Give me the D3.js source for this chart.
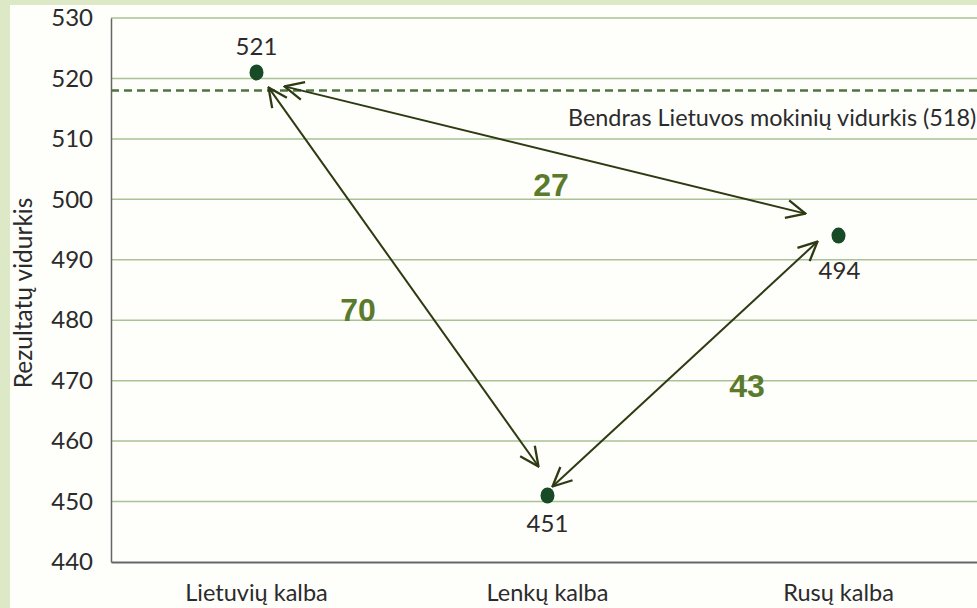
<!DOCTYPE html>
<html>
<head>
<meta charset="utf-8">
<script src="https://cdn.jsdelivr.net/npm/d3@7"></script>
<style>
    body { margin: 0; background: #dde8c6; }
    svg { display: block; }
    text { font-family: Lato, "Open Sans", sans-serif; fill: #2b2b2b; }
</style>
</head>
<body>
<svg width="977" height="608"></svg>
<script>
const categories = ["Lietuvių kalba", "Lenkų kalba", "Rusų kalba"];
const values = [521, 451, 494];
const yTicks = [440, 450, 460, 470, 480, 490, 500, 510, 520, 530];
const averageValue = 518;
const averageLabel = "Bendras Lietuvos mokinių vidurkis (518)";
const yTitle = "Rezultatų vidurkis";
// differences between pairs: [from index, to index, label]
const diffs = [[0, 1, "70"], [0, 2, "27"], [1, 2, "43"]];

const svg = d3.select("svg");
const width = +svg.attr("width");
const height = +svg.attr("height");

svg.append("rect")
    .attr("x", 10).attr("y", 5)
    .attr("width", width - 10).attr("height", height - 5)
    .attr("fill", "#fefefb");

const x = d3.scaleBand().domain(categories).range([111, 984]);
const y = d3.scaleLinear().domain([440, 530]).range([562, 18]);
const cx = c => x(c) + x.bandwidth() / 2;

// gridlines
svg.append("g")
    .selectAll("line")
    .data(yTicks.filter(t => t > 440))
    .join("line")
    .attr("x1", 111).attr("x2", width)
    .attr("y1", d => y(d)).attr("y2", d => y(d))
    .attr("stroke", "#a9c296")
    .attr("stroke-width", 1.5);

// y axis
const yAxis = svg.append("g")
    .attr("transform", "translate(111,0)")
    .call(d3.axisLeft(y).tickValues(yTicks).tickSize(0).tickPadding(18));
yAxis.select(".domain").attr("stroke", "#666").attr("stroke-width", 1.5);
yAxis.selectAll("text").style("font-size", "24px").attr("fill", "#2b2b2b");

// x axis
const xAxis = svg.append("g")
    .attr("transform", "translate(0,562)")
    .call(d3.axisBottom(x).tickSize(0).tickPadding(22));
xAxis.select(".domain").attr("stroke", "#666").attr("stroke-width", 2);
xAxis.selectAll("text").style("font-size", "23.5px").attr("fill", "#2b2b2b");

svg.append("text")
    .attr("transform", `translate(32,${(y(440) + y(530)) / 2 + 3}) rotate(-90)`)
    .attr("text-anchor", "middle")
    .style("font-size", "24.5px")
    .text(yTitle);

// average dashed line
svg.append("line")
    .attr("x1", 111).attr("x2", width)
    .attr("y1", y(averageValue)).attr("y2", y(averageValue))
    .attr("stroke", "#4f7440")
    .attr("stroke-width", 2.5)
    .attr("stroke-dasharray", "8,5");

svg.append("text")
    .attr("x", 568).attr("y", y(averageValue) + 35)
    .style("font-size", "23.4px")
    .text(averageLabel);

// arrows
const defs = svg.append("defs");
defs.append("marker")
    .attr("id", "head")
    .attr("viewBox", "0 0 22 22")
    .attr("refX", 21).attr("refY", 11)
    .attr("markerWidth", 22).attr("markerHeight", 22)
    .attr("markerUnits", "userSpaceOnUse")
    .attr("orient", "auto-start-reverse")
    .append("path")
    .attr("d", "M2,2 L21,11 L2,20")
    .attr("fill", "none")
    .attr("stroke", "#2d3a12")
    .attr("stroke-width", 2.3);

const pts = categories.map((c, i) => ({ x: cx(c), y: y(values[i]) }));
// start/end offsets per arrow, in px from the points
const arrowOffsets = [
    [[12, 15], [-9, -29]],
    [[28, 14], [-33, -22]],
    [[5, -9], [-21, 6]]
];

diffs.forEach((d, i) => {
    const a = pts[d[0]], b = pts[d[1]];
    const [o1, o2] = arrowOffsets[i];
    svg.append("line")
        .attr("x1", a.x + o1[0]).attr("y1", a.y + o1[1])
        .attr("x2", b.x + o2[0]).attr("y2", b.y + o2[1])
        .attr("stroke", "#2d3a12")
        .attr("stroke-width", 2)
        .attr("marker-start", "url(#head)")
        .attr("marker-end", "url(#head)");
});

// difference labels
const labelXY = [[358, 310], [551, 185], [747, 386]];
svg.append("g")
    .selectAll("text")
    .data(diffs)
    .join("text")
    .attr("x", (d, i) => labelXY[i][0])
    .attr("y", (d, i) => labelXY[i][1] + 11)
    .attr("text-anchor", "middle")
    .style("font-family", "Liberation Sans, Arial, sans-serif")
    .style("font-size", "32px")
    .style("font-weight", "bold")
    .style("fill", "#5a7a2c")
    .text(d => d[2]);

// points
svg.append("g")
    .selectAll("ellipse")
    .data(values)
    .join("ellipse")
    .attr("cx", (d, i) => cx(categories[i]))
    .attr("cy", d => y(d))
    .attr("rx", 7).attr("ry", 8)
    .attr("fill", "#174a25");

// value labels
const valueLabelDy = [-17, 36, 43];
svg.append("g")
    .selectAll("text")
    .data(values)
    .join("text")
    .attr("x", (d, i) => cx(categories[i]) + (i === 2 ? 1 : 0))
    .attr("y", (d, i) => y(d) + valueLabelDy[i])
    .attr("text-anchor", "middle")
    .style("font-size", "24px")
    .text(d => d);
</script>
</body>
</html>
